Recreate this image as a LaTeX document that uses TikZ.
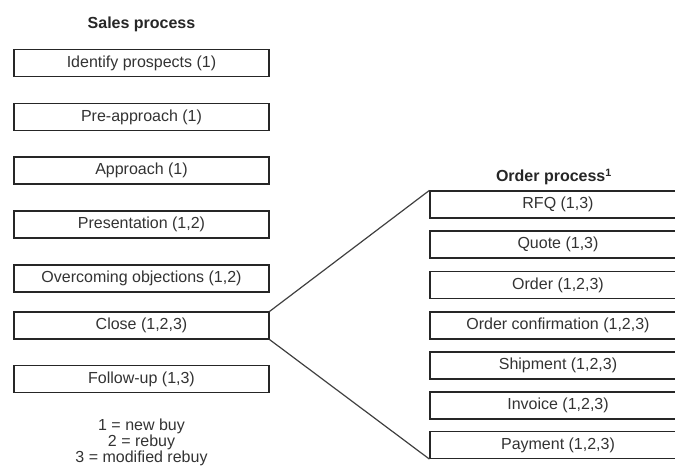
\documentclass[tikz,border=0pt]{standalone}
\usepackage{fontspec}
\setmainfont{Liberation Sans}
\begin{document}
\begin{tikzpicture}[x=0.75pt, y=-0.75pt,
  stepbox/.style={draw=black!85, line width=0.9pt, fill=white,
    minimum width=255*0.75pt, minimum height=27*0.75pt, inner sep=0pt,
    font=\fontsize{12}{14}\selectfont, text=black!80},
  heading/.style={font=\fontsize{12}{14}\selectfont\bfseries, text=black!85, inner sep=0pt},
  link/.style={draw=black!75, line width=0.9pt}]
  \path[use as bounding box] (0,0) rectangle (675,473);
  \clip (0,0) rectangle (675,473);

  % sales process steps
  \node[heading] (salesT) at (141.5,24) {Sales process};
  \node[stepbox] (s1) at (141.5,63)    {Identify prospects (1)};
  \node[stepbox] (s2) at (141.5,117)   {Pre-approach (1)};
  \node[stepbox] (s3) at (141.5,170.5) {Approach (1)};
  \node[stepbox] (s4) at (141.5,224.5) {Presentation (1,2)};
  \node[stepbox] (s5) at (141.5,278.5) {Overcoming objections (1,2)};
  \node[stepbox] (s6) at (141.5,325.5) {Close (1,2,3)};
  \node[stepbox] (s7) at (141.5,379)   {Follow-up (1,3)};

  % legend
  \node[font=\fontsize{12}{12}\selectfont, text=black!80, align=center, inner sep=0pt]
    (legend) at (141.5,442) {1 = new buy\\2 = rebuy\\3 = modified rebuy};

  % order process steps
  \node[heading] (orderT) at (554,177) {Order process\textsuperscript{1}};
  \node[stepbox, minimum width=256*0.75pt] (o1) at (558,204.5) {RFQ (1,3)};
  \node[stepbox, minimum width=256*0.75pt] (o2) at (558,244.5) {Quote (1,3)};
  \node[stepbox, minimum width=256*0.75pt] (o3) at (558,285)   {Order (1,2,3)};
  \node[stepbox, minimum width=256*0.75pt] (o4) at (558,325.5) {Order confirmation (1,2,3)};
  \node[stepbox, minimum width=256*0.75pt] (o5) at (558,365.5) {Shipment (1,2,3)};
  \node[stepbox, minimum width=256*0.75pt] (o6) at (558,405.5) {Invoice (1,2,3)};
  \node[stepbox, minimum width=256*0.75pt] (o7) at (558,445)   {Payment (1,2,3)};

  % expansion of the close step
  \draw[link] (s6.north east) -- (o1.north west);
  \draw[link] (s6.south east) -- (o7.south west);
\end{tikzpicture}
\end{document}
